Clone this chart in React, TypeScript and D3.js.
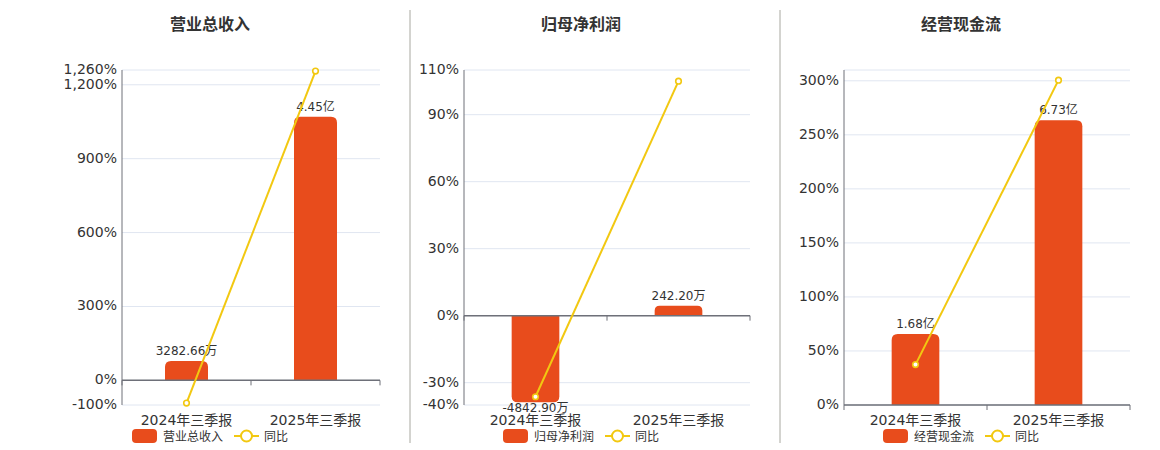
import * as d3 from 'd3';

// categories / series (amounts in 万元, growth in %)
const categories = ['2024年三季报', '2025年三季报'];
const titles = ['营业总收入', '归母净利润', '经营现金流'];

const revenueValues = [3282.66, 44500];
const profitValues = [-4842.9, 242.2];
const cashflowValues = [16800, 67300];

const revenueYoY = [-92.0, 1255.6];
const profitYoY = [-36.3, 105.0];
const cashflowYoY = [37.4, 300.6];

const revenueTicks = [-100, 0, 300, 600, 900, 1200, 1260];
const profitTicks = [-40, -30, 0, 30, 60, 90, 110];
const cashflowTicks = [0, 50, 100, 150, 200, 250, 300];

const revenuePctDomain = [-100, 1260];
const profitPctDomain = [-40, 110];
const cashflowPctDomain = [0, 310];

// hidden amount axis upper bounds (万元)
const revenueBarMax = 52400;
const profitBarMax = 13740;
const cashflowBarMax = 79200;

const W = 1160;
const H = 450;
const TOP = 70;
const BOTTOM = 405;
const BAR_COLOR = '#E84C1C';
const LINE_COLOR = '#F2C811';
const GRID = '#E0E6F1';
const AXIS = '#6E7079';
const TEXT = '#333';
const FONT = '"DejaVu Sans", "Noto Sans CJK SC", sans-serif';

const fmt = d3.formatLocale({
  decimal: '.',
  thousands: ',',
  grouping: [3],
  currency: ['', ''],
  minus: '-',
}).format(',');

function amountLabel(v: number) {
  return Math.abs(v) >= 10000 ? `${(v / 10000).toFixed(2)}亿` : `${v.toFixed(2)}万`;
}

// rect with rounded corners only on the outer end of the bar
function barPath(x: number, w: number, y0: number, y1: number, r: number) {
  const up = y1 < y0;
  const top = Math.min(y0, y1);
  const bot = Math.max(y0, y1);
  const rr = Math.min(r, (bot - top) / 2, w / 2);
  if (up) {
    return `M${x},${bot}V${top + rr}Q${x},${top} ${x + rr},${top}H${x + w - rr}Q${x + w},${top} ${x + w},${top + rr}V${bot}Z`;
  }
  return `M${x},${top}V${bot - rr}Q${x},${bot} ${x + rr},${bot}H${x + w - rr}Q${x + w},${bot} ${x + w},${bot - rr}V${top}Z`;
}

type PanelProps = {
  title: string;
  values: number[];
  yoy: number[];
  ticks: number[];
  pctDomain: number[];
  barMax: number;
  left: number;
  right: number;
  center: number;
};

function Panel({ title, values, yoy, ticks, pctDomain, barMax, left, right, center }: PanelProps) {
  const x = d3.scaleBand().domain(categories).range([left, right]).padding(0);
  const y = d3.scaleLinear().domain(pctDomain).range([BOTTOM, TOP]);
  const zeroY = y(0);
  const yBar = d3.scaleLinear().domain([0, barMax]).range([zeroY, TOP]);
  const bw = x.bandwidth();
  const barW = bw / 3;
  const cx = (c: string) => x(c)! + bw / 2;

  const line = d3
    .line<number>()
    .x((_, i) => cx(categories[i]))
    .y((d) => y(d));

  const gridVals = Array.from(new Set([...ticks, pctDomain[1]]));
  const legendName = title;
  const lx = center - 78;

  return (
    <g>
      <text x={center} y={30} textAnchor="middle" fontSize={16} fontWeight="bold" fill={TEXT}>
        {title}
      </text>

      {gridVals.map((t) => (
        <line key={`g${t}`} x1={left} x2={right} y1={y(t)} y2={y(t)} stroke={GRID} strokeWidth={1} />
      ))}

      {ticks.map((t) => (
        <text key={`t${t}`} x={left - 5} y={y(t)} textAnchor="end" dominantBaseline="middle" fontSize={14} fill={TEXT}>
          {fmt(t)}%
        </text>
      ))}

      {values.map((v, i) => {
        const c = categories[i];
        const bx = x(c)! + barW;
        let y1 = yBar(v);
        if (Math.abs(y1 - zeroY) < 10) y1 = v >= 0 ? zeroY - 10 : zeroY + 10;
        return <path key={`b${i}`} d={barPath(bx, barW, zeroY, y1, 6)} fill={BAR_COLOR} />;
      })}

      <line x1={left} x2={left} y1={TOP} y2={BOTTOM} stroke={AXIS} strokeWidth={1} />
      <line x1={left} x2={right} y1={zeroY} y2={zeroY} stroke={AXIS} strokeWidth={1.5} />
      {[...categories.map((c) => x(c)!), right].map((t, i) => (
        <line key={`k${i}`} x1={t} x2={t} y1={zeroY} y2={zeroY + 5} stroke={AXIS} strokeWidth={1} />
      ))}

      {values.map((v, i) => {
        const c = categories[i];
        let y1 = yBar(v);
        if (Math.abs(y1 - zeroY) < 10) y1 = v >= 0 ? zeroY - 10 : zeroY + 10;
        return (
          <text key={`l${i}`} x={cx(c)} y={v >= 0 ? y1 - 6 : y1 + 10} textAnchor="middle" fontSize={12} fill={TEXT}>
            {amountLabel(v)}
          </text>
        );
      })}

      {categories.map((c) => (
        <text key={c} x={cx(c)} y={425} textAnchor="middle" fontSize={14} fill={TEXT}>
          {c}
        </text>
      ))}

      <path d={line(yoy)!} fill="none" stroke={LINE_COLOR} strokeWidth={2} />
      {yoy.map((v, i) => (
        <circle key={`p${i}`} cx={cx(categories[i])} cy={y(v)} r={2.8} fill="#fff" stroke={LINE_COLOR} strokeWidth={1.6} />
      ))}

      <g>
        <rect x={lx} y={429} width={25} height={14} rx={4} fill={BAR_COLOR} />
        <text x={lx + 31} y={441} fontSize={12} fill={TEXT}>
          {legendName}
        </text>
        <line x1={lx + 102} x2={lx + 127} y1={436} y2={436} stroke={LINE_COLOR} strokeWidth={2} />
        <circle cx={lx + 114.5} cy={436} r={5.5} fill="#fff" stroke={LINE_COLOR} strokeWidth={2} />
        <text x={lx + 132} y={441} fontSize={12} fill={TEXT}>
          同比
        </text>
      </g>
    </g>
  );
}

export default function App() {
  return (
    <svg
      width={W}
      height={H}
      style={{ position: 'absolute', left: 0, top: 0, background: '#fff', fontFamily: FONT }}
    >
      <Panel
        title={titles[0]}
        values={revenueValues}
        yoy={revenueYoY}
        ticks={revenueTicks}
        pctDomain={revenuePctDomain}
        barMax={revenueBarMax}
        left={122}
        right={380}
        center={210}
      />
      <Panel
        title={titles[1]}
        values={profitValues}
        yoy={profitYoY}
        ticks={profitTicks}
        pctDomain={profitPctDomain}
        barMax={profitBarMax}
        left={464}
        right={750}
        center={581}
      />
      <Panel
        title={titles[2]}
        values={cashflowValues}
        yoy={cashflowYoY}
        ticks={cashflowTicks}
        pctDomain={cashflowPctDomain}
        barMax={cashflowBarMax}
        left={844}
        right={1130}
        center={961}
      />
      <line x1={410} x2={410} y1={10} y2={443} stroke="#A8A8A0" strokeWidth={1} />
      <line x1={780} x2={780} y1={10} y2={443} stroke="#A8A8A0" strokeWidth={1} />
    </svg>
  );
}
